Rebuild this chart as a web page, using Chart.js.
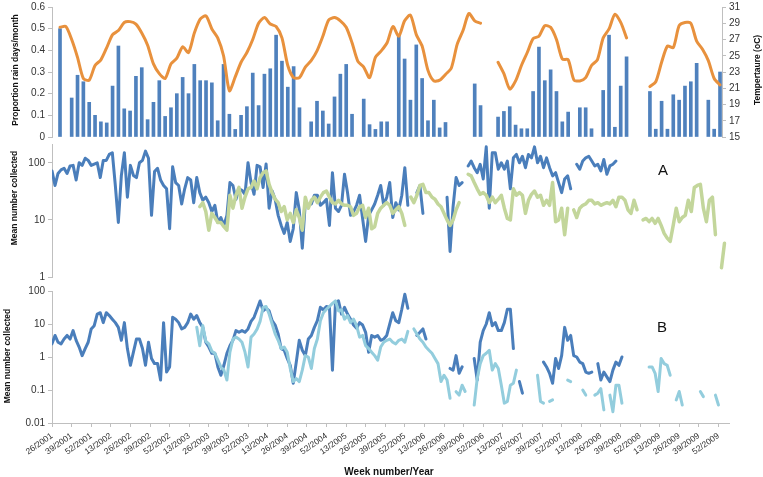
<!DOCTYPE html>
<html>
<head>
<meta charset="utf-8">
<script src="https://cdn.jsdelivr.net/npm/chart.js@4.4.1/dist/chart.umd.min.js"></script>
<style>
  html, body { margin: 0; padding: 0; background: #fff; }
  #wrap { position: relative; width: 763px; height: 477px; overflow: hidden; }
  canvas { position: absolute; left: 0; }
</style>
</head>
<body>
<div id="wrap">
  <canvas id="rain" width="763" height="148" style="top:-2px"></canvas>
  <canvas id="panelA" width="763" height="151" style="top:135px"></canvas>
  <canvas id="panelB" width="763" height="195" style="top:282px"></canvas>
</div>
<script>
// monthly climate (index = month step, null = no record)
const rainDays = [
  0.50, null, 0.18, 0.285, 0.255, 0.16, 0.10, 0.07, 0.065, 0.235,
  0.42, 0.13, 0.12, 0.28, 0.32, 0.08, 0.16, 0.26, 0.095, 0.135,
  0.20, 0.275, 0.20, 0.335, 0.26, 0.26, 0.25, 0.075, 0.335, 0.105,
  0.035, 0.10, 0.14, 0.295, 0.145, 0.29, 0.315, 0.47, 0.35, 0.23,
  0.325, 0.135, null, 0.07, 0.165, 0.12, 0.06, 0.185, 0.29, 0.335,
  0.105, null, 0.175, 0.057, 0.035, 0.07, 0.07, null, 0.47, 0.36,
  0.17, 0.425, 0.27, 0.075, 0.17, 0.042, 0.067, null, null, null,
  null, 0.245, 0.145, null, null, 0.092, 0.118, 0.14, 0.055, 0.038,
  0.038, 0.21, 0.415, 0.26, 0.31, 0.21, 0.07, 0.115, null, 0.135,
  0.135, 0.038, null, 0.215, 0.47, 0.045, 0.235, 0.37, null, null,
  null, 0.21, 0.036, 0.165, 0.036, 0.195, 0.17, 0.235, 0.255, 0.34,
  null, 0.17, 0.036, 0.30
];
const temperature = [
  28.5, 28.6, 27.0, 24.8, 22.2, 22.0, 23.8, 24.5, 26.0, 27.6,
  28.1, 29.1, 29.2, 28.9, 27.8, 26.3, 24.0, 22.8, 22.2, 24.0,
  24.7, 26.1, 25.4, 27.8, 29.5, 29.9, 28.3, 27.2, 25.0, 20.7,
  22.4, 24.2, 25.4, 27.0, 29.0, 29.7, 28.9, 28.6, 27.2, 23.8,
  22.3, 22.3, 23.6, 24.4, 25.6, 27.4, 29.4, 29.7, 29.3, 28.5,
  26.6, 24.3, 23.6, 22.3, 24.8, 25.6, 26.6, 28.6, 27.4, 29.3,
  30.0, 27.6, 26.2, 23.2, 21.9, 22.0, 22.7, 23.5, 26.4, 28.1,
  30.2, 29.3, 29.0, null, null, 24.2, 22.8, 20.9, 21.9, 23.8,
  25.4, 27.1, 27.4, 28.7, 28.5, 27.0, 24.6, 24.5, 22.0, 21.9,
  22.3, 23.8, 24.5, 27.2, 28.3, 30.1, 29.1, 27.2, null, null,
  null, 21.2, 21.8, 24.2, 26.2, 26.0, 28.7, 29.1, 29.0, 26.8,
  25.8, 24.4, 22.2, 21.4
];

// fortnightly means, slot i = week 2*i after 26/2001
const slotWeeks = 2;
const aSeries1 = [
  72, 40, 65, 75, 80, 65, 88, 90, 50, 100,
  90, 120, 110, 90, 95, 100, 55, 110, 110, 140,
  150, 40, 9, 60, 150, 25, 90, 60, 55, 100,
  110, 160, 120, 12, 70, 80, 50, 40, 35, 7,
  85, 45, 40, 19, 35, 55, 50, 20, 55, 30,
  22, 25, 20, 14, 18, 9, 11, 8, 12, 45,
  40, 23, 35, 33, 28, 100, 45, 28, 90, 85,
  37, 95, 16, 32, 23, 12, 8, 5.8, 9, 4.2,
  7, 30, 15, 3.2, 20, 18, 19, 27, 27, 18,
  20, 23, 8, 67, 16, 14, 18, 63, 30, 12,
  14, 18, 27, 10.6, 4.2, 12, 15, 19, 27, 40,
  18, 25, 45, 11, 20, 15, 27, 82, 18, null,
  null, 30, 40, 13, null, null, null, null, null, null,
  null, 25, 2.8, 17, 55, 40, 45, null, 88, 107,
  82, 67, 94, 52, 190, 16, 149, 149, 77, 100,
  77, 107, 35, 122, 140, 100, 130, 82, 140, 122,
  190, 100, 130, 82, 122, 82, 59, 67, 45, 30,
  52, 59, 35, null, 94, 77, 107, 122, 130, 107,
  88, 94, 72, 114, 63, 88, 94, 107
];
const aSeries2 = [
  null, null, null, null, null, null, null, null, null, null,
  null, null, null, null, null, null, null, null, null, null,
  null, null, null, null, null, null, null, null, null, null,
  null, null, null, null, null, null, null, null, null, null,
  null, null, null, null, null, null, null, null, null, 17,
  20, 14, 6.6, 13, 11, 9, 9, 7.6, 6.6, 27,
  16, 27, 37, 16, 25, 35, 37, 48, 35, 55,
  67, 72, 42, 30, 23, 20, 14, 17, 10, 13,
  9, 15, 11, 6.6, 25, 16, 22, 25, 20, 25,
  30, 32, 25, 20, 19, 22, 19, 18, 18, 17,
  12, 13, 17, 18, 11, 16, 7, 7.6, 13, 16,
  18, 20, 18, 13, 15, 17, 13, 8, null, 25,
  20, 27, 40, 42, 30, 30, 25, 23, 19, 17,
  13, 10, 8, 10, 15, 20, null, null, 63, 59,
  45, 35, 28, 30, 27, 20, 25, 20, 23, 27,
  16, 10.6, 10, 35, 27, 30, 27, 13, 22, 28,
  32, 25, 27, 18, 22, 18, 45, 9.3, 10, 16,
  5.5, 16, null, 15, 11, 16, 18, 19, 22, 22,
  19, 20, 18, 19, 20, 19, 22, 17, 25, 25,
  22, 15, 13, 22, 15, null, 10, 10.6, 9.3, 10.6,
  8.7, 10.6, 8, 5.8, 4.8, 4.2, 8, 16, 9.3, 11,
  12, 22, 14, 37, 40, 42, 16, 9.3, 22, 25,
  5.5, null, 1.45, 3.9
];
const bSeries1 = [
  2.5, 4.5, 2.8, 2.5, 3.5, 4.5, 3.5, 6.3, 3.2, 2.0,
  1.1, 1.8, 2.8, 7.1, 8.9, 20, 22, 11, 22, 18,
  14, 11, 7.9, 3.2, 11, 1.8, 0.56, 1.4, 3.5, 3.5,
  1.8, 0.56, 2.8, 0.9, 0.63, 0.63, 0.2, 11, 0.35, 0.5,
  16, 14, 11, 7.1, 7.9, 11, 20, 14, 18, 11,
  7.9, 2.8, 2.0, 1.3, 1.3, 0.5, 0.28, 0.56, 1.3, 2.2,
  3.2, 6.3, 5.6, 6.3, 5.6, 7.1, 12, 16, 28, 50,
  25, 30, 25, 12.6, 9.3, 5, 1.8, 1.6, 0.9, 0.56,
  0.16, 0.7, 3.2, 1.6, 1.1, 3.5, 4.5, 7.9, 12.6, 32,
  27, 34, 32, 0.4, 45, 50, 20, 32, 20, 14,
  9.3, 7.4, 11, 9.3, 5.6, 1.4, 4.5, 4.0, 4.5, 3.2,
  3.5, 4.5, 10, 22, 12.6, 11, 28, 80, 30, null,
  null, 4.5, 5.6, 7.1, 3.5, null, null, null, null, null,
  null, null, 0.45, 0.4, 1.1, 0.32, 0.5, null, null, null,
  0.9, 0.2, 2.8, 6.3, 10, 22, 8.9, 11, 6.3, 6.3,
  11, 28, 28, 1.8, null, 0.18, 0.08, null, null, null,
  null, null, null, 0.7, 0.5, 0.32, 0.16, 0.9, 0.45, 1.1,
  7.9, 3.2, 4.5, 1.1, 1.0, 0.7, 0.63, 0.35, 0.32, 0.35,
  null, 0.63, 0.2, 0.35, 0.25, 0.18, 0.4, 0.7, 0.56, 1.0
];
const bSeries2 = [
  null, null, null, null, null, null, null, null, null, null,
  null, null, null, null, null, null, null, null, null, null,
  null, null, null, null, null, null, null, null, null, null,
  null, null, null, null, null, null, null, null, null, null,
  null, null, null, null, null, null, null, null, 8, 2.2,
  9, 3, 2.5, 1.5, 1.3, 0.8, 0.5, 0.4, 0.2, 1.4,
  3.5, 4, 3.5, 2.8, 1.4, 0.5, 4, 5, 7, 12,
  32, 34, 20, 10, 5, 3.2, 1.8, 2.0, 1.4, 0.45,
  0.18, 0.22, 0.18, 0.4, 1.1, 1.0, 0.45, 1.8, 3.5, 12.6,
  22, 28, 34, 42, 50, 25, 27, 14, 18, 11,
  14, 8.9, 4.0, 4.5, 2.2, 1.8, 1.4, 1.1, 0.8, 2.0,
  2.8, 3.2, 3.5, 2.8, 2.5, 3.2, 3.5, 2.8, 6, null,
  7.1, 5, 3.5, 2.8, 2.0, 1.6, 1.3, 0.9, 0.63, 0.18,
  0.28, 0.2, 0.056, null, 0.089, 0.07, 0.14, 0.09, null, null,
  0.035, 0.22, 0.63, 1.1, 1.3, 1.6, 0.4, 0.63, 0.45, 0.14,
  0.04, 0.045, 0.14, 0.16, 0.4, null, null, null, null, null,
  null, 0.28, 0.045, 0.04, null, 0.045, 0.05, null, null, null,
  null, 0.2, 0.18, null, null, null, 0.1, 0.07, null, null,
  0.07, 0.08, 0.11, 0.025, null, 0.07, 0.022, 0.14, 0.14, 0.04,
  null, null, null, null, null, null, null, null, 0.5, 0.5,
  0.32, 0.09, 0.9, 0.63, 0.56, 0.28, null, 0.05, 0.09, 0.035,
  null, null, null, null, null, 0.09, 0.063, null, null, null,
  0.07, 0.035
];

const weekLabels = [
  '26/2001', '39/2001', '52/2001',
  '13/2002', '26/2002', '39/2002', '52/2002',
  '13/2003', '26/2003', '39/2003', '52/2003',
  '13/2004', '26/2004', '39/2004', '52/2004',
  '13/2005', '26/2005', '39/2005', '52/2005',
  '13/2006', '26/2006', '39/2006', '52/2006',
  '13/2007', '26/2007', '39/2007', '52/2007',
  '13/2008', '26/2008', '39/2008', '52/2008',
  '13/2009', '26/2009', '39/2009', '52/2009'
];
const rainTicks = [0, 0.1, 0.2, 0.3, 0.4, 0.5, 0.6];
const tempTicks = [15, 17, 19, 21, 23, 25, 27, 29, 31];
const aTicks = [1, 10, 100];
const bTicks = [0.01, 0.1, 1, 10, 100];

const axisGrey = '#bfbfbf';
const tickFont = { family: 'Liberation Sans', size: 10 };
const tickColor = '#333333';

// draws free text (axis titles, panel letters)
const freeText = {
  id: 'freeText',
  afterDraw(chart, args, opts) {
    const ctx = chart.ctx;
    (opts.items || []).forEach(t => {
      ctx.save();
      ctx.translate(t.x, t.y);
      ctx.rotate(t.rot || 0);
      ctx.font = t.font;
      ctx.fillStyle = '#111';
      ctx.textAlign = 'center';
      ctx.textBaseline = 'middle';
      ctx.fillText(t.text, 0, 0);
      ctx.restore();
    });
  }
};
Chart.register(freeText);

const toPoints = (arr, step) => arr.map((v, i) => ({ x: i * step, y: v }));

function yAxis(extra) {
  return Object.assign({
    grid: { drawOnChartArea: false, tickLength: 4, color: axisGrey },
    border: { color: axisGrey },
    ticks: { font: tickFont, color: tickColor, padding: 3 },
    afterFit: s => { s.width = 52; }
  }, extra);
}

const base = {
  responsive: false,
  animation: false,
  events: [],
  elements: { point: { radius: 0 }, line: { borderJoinStyle: 'round', borderCapStyle: 'round' } }
};

// top panel: rain days and temperature
new Chart(document.getElementById('rain'), {
  type: 'bar',
  data: {
    datasets: [
      {
        type: 'line',
        data: toPoints(temperature, 1),
        yAxisID: 'temp',
        borderColor: '#e8913d',
        borderWidth: 3,
        tension: 0.25,
        spanGaps: false
      },
      {
        data: toPoints(rainDays, 1),
        yAxisID: 'y',
        backgroundColor: '#4f81bd',
        barThickness: 3
      }
    ]
  },
  options: Object.assign({}, base, {
    layout: { padding: { top: 6, bottom: 6, left: 0, right: 0 } },
    plugins: {
      legend: { display: false },
      tooltip: { enabled: false },
      freeText: { items: [
        { text: 'Proportion rain days/month', x: 16, y: 72, rot: -Math.PI / 2, font: 'bold 8.5px "Liberation Sans"' },
        { text: 'Tempertaure (oC)', x: 758, y: 72, rot: -Math.PI / 2, font: 'bold 8.5px "Liberation Sans"' }
      ] }
    },
    scales: {
      x: { type: 'linear', min: -1.37, max: 113.34, offset: false, display: false },
      y: yAxis({
        min: 0, max: 0.6,
        afterBuildTicks: s => { s.ticks = rainTicks.map(v => ({ value: v })); },
        ticks: { font: tickFont, color: tickColor, padding: 3, callback: v => v === 0 ? '0' : v.toFixed(1) }
      }),
      temp: {
        position: 'right',
        min: 15, max: 31,
        grid: { drawOnChartArea: false, tickLength: 4, color: axisGrey },
        border: { color: axisGrey },
        afterBuildTicks: s => { s.ticks = tempTicks.map(v => ({ value: v })); },
        ticks: { font: tickFont, color: tickColor, padding: 3 },
        afterFit: s => { s.width = 41; }
      }
    }
  })
});

// panel A
new Chart(document.getElementById('panelA'), {
  type: 'line',
  data: {
    datasets: [
      { data: toPoints(aSeries2, slotWeeks), borderColor: '#c3d69b', borderWidth: 3.5, spanGaps: false },
      { data: toPoints(aSeries1, slotWeeks), borderColor: '#4a7ebb', borderWidth: 3, spanGaps: false }
    ]
  },
  options: Object.assign({}, base, {
    layout: { padding: { top: 6, bottom: 6, left: 0, right: 34 } },
    plugins: {
      legend: { display: false },
      tooltip: { enabled: false },
      freeText: { items: [
        { text: 'Mean number collected', x: 15, y: 63, rot: -Math.PI / 2, font: 'bold 8.5px "Liberation Sans"' },
        { text: 'A', x: 663, y: 36, font: '15px "Liberation Sans"' }
      ] }
    },
    scales: {
      x: { type: 'linear', min: 0, max: 449, display: false },
      y: yAxis({
        type: 'logarithmic', min: 1, max: 213,
        afterBuildTicks: s => { s.ticks = aTicks.map(v => ({ value: v })); },
        ticks: { font: tickFont, color: tickColor, padding: 3, callback: v => String(v) }
      })
    }
  })
});

// panel B
new Chart(document.getElementById('panelB'), {
  type: 'line',
  data: {
    datasets: [
      { data: toPoints(bSeries2, slotWeeks), borderColor: '#93cddd', borderWidth: 3, spanGaps: false },
      { data: toPoints(bSeries1, slotWeeks), borderColor: '#4a7ebb', borderWidth: 3, spanGaps: false }
    ]
  },
  options: Object.assign({}, base, {
    layout: { padding: { top: 6, bottom: 0, left: 0, right: 34 } },
    plugins: {
      legend: { display: false },
      tooltip: { enabled: false },
      freeText: { items: [
        { text: 'Mean number collected', x: 8, y: 74, rot: -Math.PI / 2, font: 'bold 8.5px "Liberation Sans"' },
        { text: 'B', x: 662, y: 46, font: '15px "Liberation Sans"' },
        { text: 'Week number/Year', x: 389, y: 190, font: 'bold 10px "Liberation Sans"' }
      ] }
    },
    scales: {
      x: {
        type: 'linear', min: 0, max: 449,
        grid: { drawOnChartArea: false, tickLength: 4, color: axisGrey },
        border: { color: axisGrey },
        afterBuildTicks: s => { s.ticks = weekLabels.map((l, i) => ({ value: i * 13 })); },
        ticks: {
          autoSkip: false, minRotation: 35, maxRotation: 35, padding: 4,
          font: { family: 'Liberation Sans', size: 8.5 }, color: tickColor,
          callback: v => weekLabels[Math.round(v / 13)]
        },
        afterFit: s => { s.height = 54; }
      },
      y: yAxis({
        type: 'logarithmic', min: 0.01, max: 100,
        afterBuildTicks: s => { s.ticks = bTicks.map(v => ({ value: v })); },
        ticks: { font: tickFont, color: tickColor, padding: 3, callback: v => String(v) }
      })
    }
  })
});
</script>
</body>
</html>
